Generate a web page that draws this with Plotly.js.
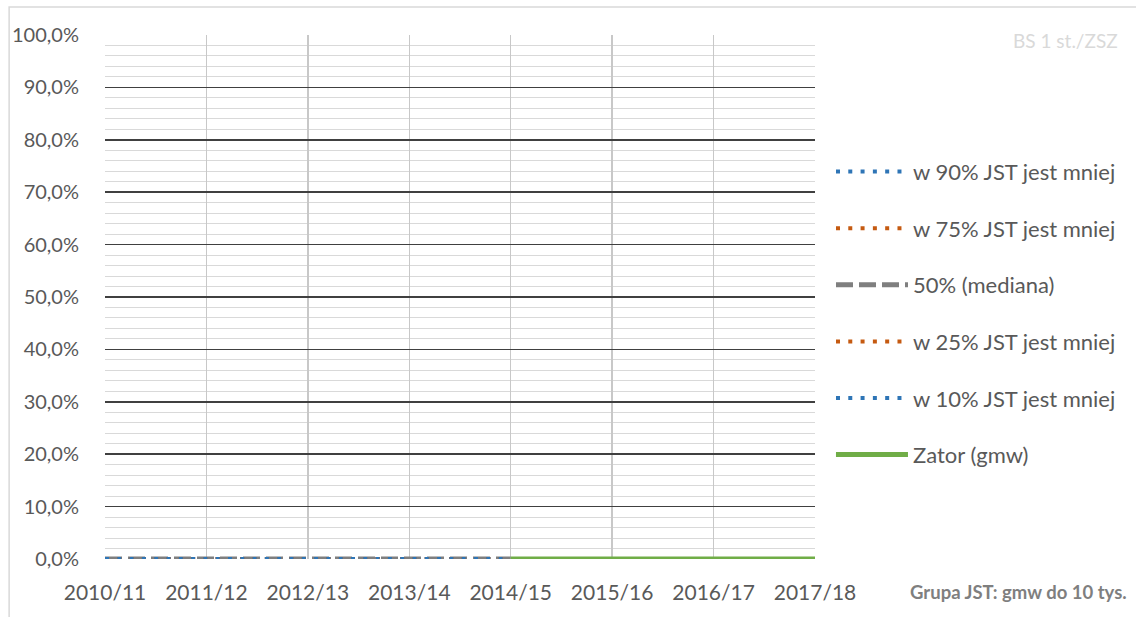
<!DOCTYPE html>
<html><head><meta charset="utf-8">
<script src="https://cdn.plot.ly/plotly-3.0.1.min.js"></script>
<style>html,body{margin:0;padding:0;background:#fff;}#chart{width:1136px;height:617px;}</style>
</head><body><div id="chart"></div>
<script>
const categories = ['2010/11','2011/12','2012/13','2013/14','2014/15','2015/16','2016/17','2017/18'];
const p90 = [0,0,0,0,0,null,null,null];
const p75 = [0,0,0,0,0,null,null,null];
const p50 = [0,0,0,0,0,null,null,null];
const p25 = [0,0,0,0,0,null,null,null];
const p10 = [0,0,0,0,0,null,null,null];
const zator = [null,null,null,null,0,0,0,0];
const names = ['w 90% JST jest mniej','w 75% JST jest mniej','50% (mediana)','w 25% JST jest mniej','w 10% JST jest mniej','Zator (gmw)'];

const blue = '#2E75B6', orange = '#C55A11', gray = '#7F7F7F', green = '#70AD47';
function tr(y, name, color, dash, width, g){
  return {x: categories, y: y, name: name, type: 'scatter', mode: 'lines',
    line: {color: color, dash: dash, width: width}, legendgroup: g, connectgaps: false, hoverinfo: 'skip'};
}
const dotDash = '4px,8.3px';
const data = [
  tr(p90, names[0], blue, dotDash, 4, 'a'),
  tr(p75, names[1], orange, dotDash, 4, 'b'),
  tr(p50, names[2], gray, '17px,6px', 5, 'c'),
  tr(p25, names[3], orange, dotDash, 4, 'd'),
  tr(p10, names[4], blue, dotDash, 4, 'e'),
  tr(zator, names[5], green, 'solid', 5, 'f')
];
const fam = 'Lato, "Open Sans", sans-serif';
const layout = {
  width: 1136, height: 617,
  margin: {l: 105, r: 321, t: 35, b: 58},
  paper_bgcolor: '#fff', plot_bgcolor: '#fff',
  separators: ', ',
  font: {family: fam, size: 20, color: '#595959'},
  showlegend: true,
  legend: {x: 1.0225, xanchor: 'left', y: 0.779, yanchor: 'top', font: {family: fam, size: 22, color: '#595959'},
    tracegroupgap: 25, itemwidth: 72, bgcolor: 'rgba(0,0,0,0)'},
  xaxis: {type: 'category', range: [0, 7], showgrid: true, gridcolor: '#C8C8C8', gridwidth: 1.5,
    tickfont: {family: fam, size: 21, color: '#595959'},
    ticks: 'outside', ticklen: 15, tickcolor: 'rgba(0,0,0,0)', showline: false, zeroline: false, fixedrange: true},
  yaxis: {range: [0, 1], dtick: 0.1, tickformat: '.1%', showgrid: true, gridcolor: '#404040', gridwidth: 1.5,
    tickfont: {family: fam, size: 20, color: '#595959'},
    ticks: 'outside', ticklen: 21, tickcolor: 'rgba(0,0,0,0)', zeroline: false, showline: false, fixedrange: true,
    minor: {dtick: 0.02, showgrid: true, gridcolor: '#D9D9D9', gridwidth: 1}},
  shapes: [
    {type: 'rect', xref: 'paper', yref: 'paper', x0: (9-105)/711, x1: 1.6, y0: -0.2, y1: (559-7)/524,
     line: {color: '#D9D9D9', width: 1.5}, fillcolor: 'rgba(0,0,0,0)', layer: 'below'}
  ],
  annotations: [
    {text: 'BS 1 st./ZSZ', xref: 'paper', yref: 'paper', x: (1067-105)/711, y: (559-41)/524, xanchor: 'center', yanchor: 'middle',
     showarrow: false, font: {family: fam, size: 19, color: '#D9D9D9'}},
    {text: '<b>Grupa JST: gmw do 10 tys.</b>', xref: 'paper', yref: 'paper', x: (1020-105)/711, y: (559-592)/524, xanchor: 'center', yanchor: 'middle',
     showarrow: false, font: {family: fam, size: 18.5, color: '#7F7F7F'}}
  ]
};
Plotly.newPlot('chart', data, layout, {displayModeBar: false, staticPlot: true});
</script></body></html>
